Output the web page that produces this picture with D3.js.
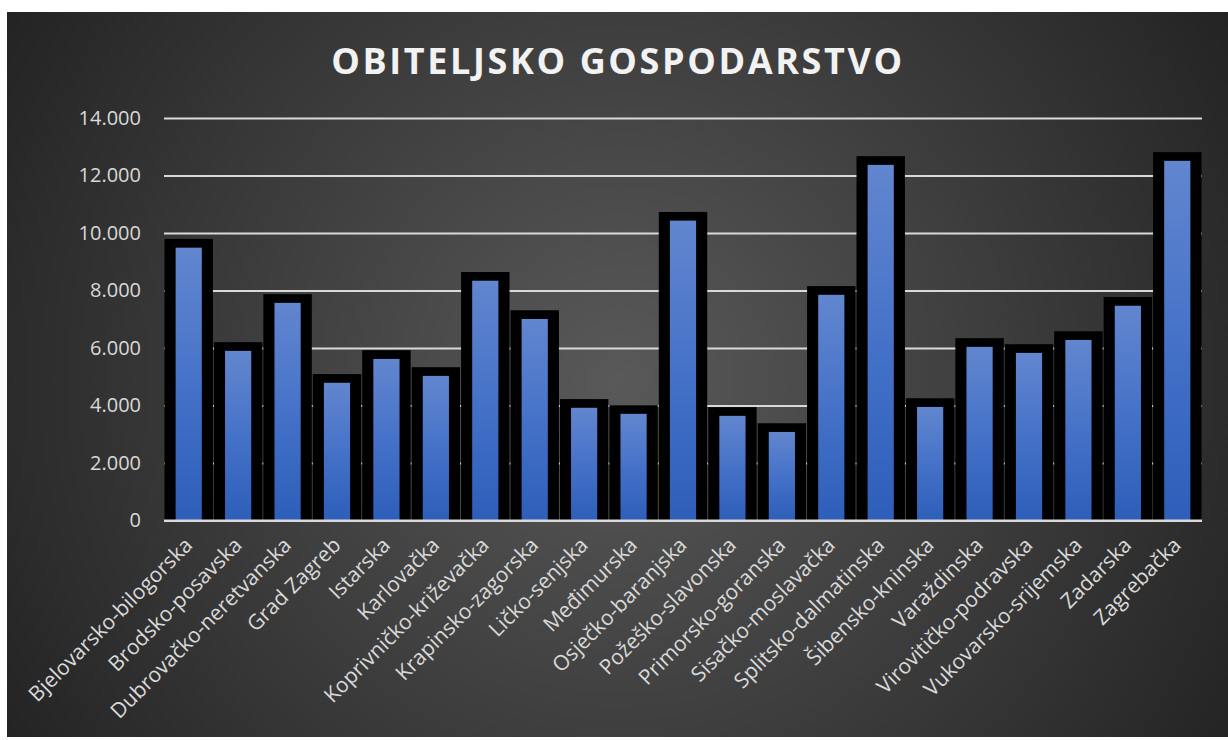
<!DOCTYPE html>
<html>
<head>
<meta charset="utf-8">
<script src="https://cdn.jsdelivr.net/npm/d3@7"></script>
<style>
  body { margin: 0; background: #ffffff; }
  svg { display: block; font-family: "Open Sans", sans-serif; }
</style>
</head>
<body>
<div id="chart"></div>
<script>

/////////// Data ///////////

var counties = [
  'Bjelovarsko-bilogorska', 'Brodsko-posavska', 'Dubrovačko-neretvanska',
  'Grad Zagreb', 'Istarska', 'Karlovačka', 'Koprivničko-križevačka',
  'Krapinsko-zagorska', 'Ličko-senjska', 'Međimurska', 'Osječko-baranjska',
  'Požeško-slavonska', 'Primorsko-goranska', 'Sisačko-moslavačka',
  'Splitsko-dalmatinska', 'Šibensko-kninska', 'Varaždinska',
  'Virovitičko-podravska', 'Vukovarsko-srijemska', 'Zadarska', 'Zagrebačka'
];

var farms = [
  9490, 5900, 7570, 4790, 5620, 5030, 8340, 7010, 3920, 3710, 10430,
  3640, 3080, 7850, 12370, 3950, 6040, 5830, 6280, 7470, 12510
];

var yTicks = [0, 2000, 4000, 6000, 8000, 10000, 12000, 14000];

var title = 'OBITELJSKO GOSPODARSTVO';

/////////// Layout ///////////

var width = 1228, height = 740;
var margin = {top: 118, right: 26, bottom: 220, left: 164};

var svg = d3.select('#chart')
  .append('svg')
    .attr('width', width)
    .attr('height', height);

var defs = svg.append('defs');

// Dark radial background
var bg = defs.append('radialGradient')
  .attr('id', 'bg-grad')
  .attr('gradientUnits', 'userSpaceOnUse')
  .attr('cx', 620).attr('cy', 380).attr('r', 720);
bg.append('stop').attr('offset', '0%').attr('stop-color', '#595959');
bg.append('stop').attr('offset', '100%').attr('stop-color', '#232323');

// Blue bar gradient
var barGrad = defs.append('linearGradient')
  .attr('id', 'bar-grad')
  .attr('x1', 0).attr('y1', 0).attr('x2', 0).attr('y2', 1);
barGrad.append('stop').attr('offset', '0%').attr('stop-color', '#6286cf');
barGrad.append('stop').attr('offset', '50%').attr('stop-color', '#4572c8');
barGrad.append('stop').attr('offset', '100%').attr('stop-color', '#2d5eb9');

svg.append('rect')
  .attr('x', 7).attr('y', 12)
  .attr('width', width - 7).attr('height', 725)
  .attr('fill', 'url(#bg-grad)');

// Title
svg.append('text')
  .attr('x', 618)
  .attr('y', 74)
  .attr('text-anchor', 'middle')
  .attr('fill', '#f2f2f2')
  .style('font-size', '36px')
  .style('font-weight', 700)
  .style('letter-spacing', '2.6px')
  .text(title);

var g = svg.append('g')
  .attr('transform', 'translate(' + margin.left + ',' + margin.top + ')');

var plotW = width - margin.left - margin.right;
var plotH = 520.5 - margin.top;

var x = d3.scaleBand()
  .domain(counties)
  .range([0, plotW])
  .paddingInner(0)
  .paddingOuter(0);

var y = d3.scaleLinear()
  .domain([0, 14000])
  .range([plotH, 0]);

/////////// Axes ///////////

var fmt = function(d) { return d3.format(',')(d).replace(/,/g, '.'); };

var yAxis = g.append('g')
  .call(d3.axisLeft(y).tickValues(yTicks).tickSize(-plotW).tickFormat(fmt));
yAxis.select('.domain').remove();
yAxis.selectAll('.tick line')
  .attr('stroke', '#d9d9d9')
  .attr('stroke-width', 2);
yAxis.selectAll('.tick text')
  .attr('x', -23)
  .attr('fill', '#d9d9d9')
  .style('font-family', '"Open Sans", sans-serif')
  .style('font-size', '20px');

// Bars: black offset shadow then blue bar
var bw = x.bandwidth();

g.selectAll('.shadow')
  .data(farms)
  .enter()
    .append('rect')
    .attr('class', 'shadow')
    .attr('x', function(d, i) { return x(counties[i]) + bw * 0.01; })
    .attr('width', bw * 0.98)
    .attr('y', function(d) { return y(d) - 8.7; })
    .attr('height', function(d) { return plotH - y(d) + 8.7; })
    .attr('fill', '#000000');

g.selectAll('.bar')
  .data(farms)
  .enter()
    .append('rect')
    .attr('class', 'bar')
    .attr('x', function(d, i) { return x(counties[i]) + bw * 0.235; })
    .attr('width', bw * 0.53)
    .attr('y', function(d) { return y(d); })
    .attr('height', function(d) { return plotH - y(d); })
    .attr('fill', 'url(#bar-grad)');

// Baseline
g.append('line')
  .attr('x1', 0).attr('x2', plotW)
  .attr('y1', plotH).attr('y2', plotH)
  .attr('stroke', '#d9d9d9')
  .attr('stroke-width', 2);

// Category labels rotated
var xAxis = g.append('g')
  .attr('transform', 'translate(0,' + plotH + ')')
  .call(d3.axisBottom(x).tickSize(0).tickPadding(0));
xAxis.select('.domain').remove();
xAxis.selectAll('.tick text')
  .attr('fill', '#d9d9d9')
  .attr('text-anchor', 'end')
  .attr('dy', 0)
  .attr('transform', 'translate(5,26) rotate(-45)')
  .style('font-family', '"Open Sans", sans-serif')
  .style('font-size', '21px');

</script>
</body>
</html>
